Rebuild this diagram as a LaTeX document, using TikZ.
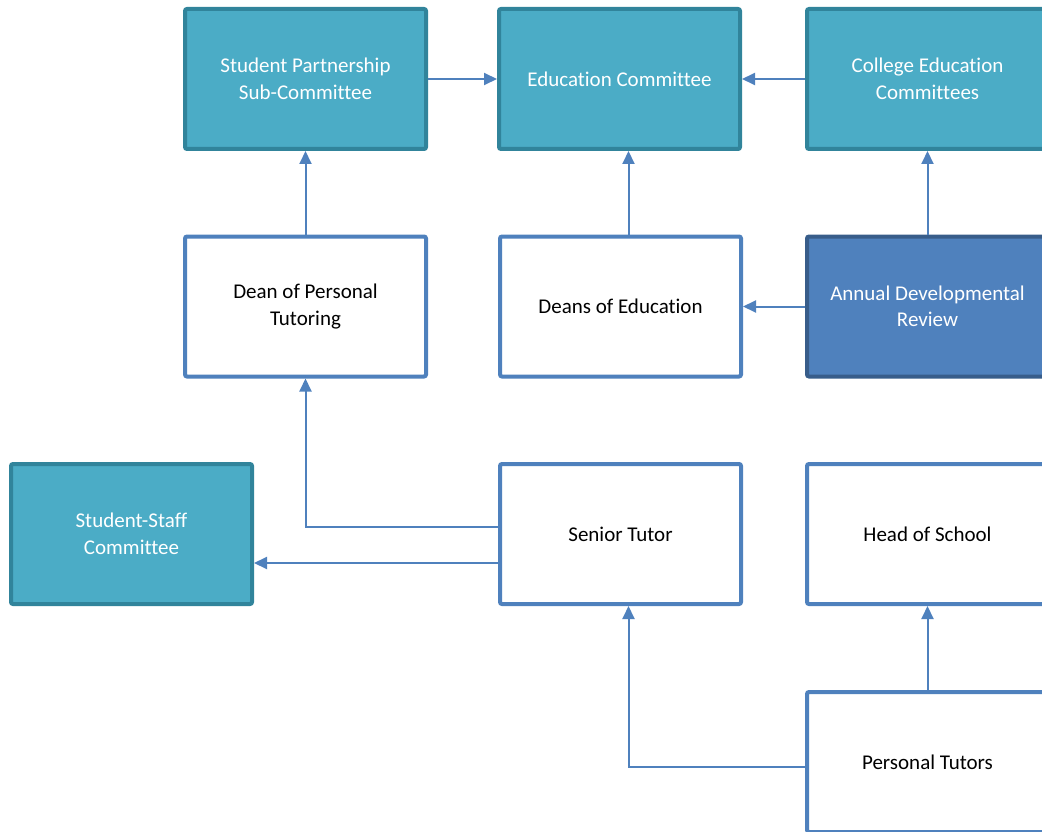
\documentclass[tikz,border=0pt]{standalone}
\usepackage{fontspec}
\setmainfont{Carlito}[Ligatures={NoCommon}]
\usetikzlibrary{arrows.meta}
\definecolor{tealfill}{HTML}{4BACC6}
\definecolor{tealline}{HTML}{31849B}
\definecolor{bluefill}{HTML}{4F81BD}
\definecolor{blueline}{HTML}{385D8A}
\begin{document}
\begin{tikzpicture}[x=1pt,y=-1pt,
  box/.style={rectangle, rounded corners=2pt, line width=4pt, minimum width=241pt, minimum height=140pt,
    align=center, font=\fontsize{21}{26.5}\selectfont, inner sep=0pt},
  tealbox/.style={box, draw=tealline, fill=tealfill, text=white},
  whitebox/.style={box, draw=bluefill, fill=white, text=black},
  adrbox/.style={box, draw=blueline, fill=bluefill, text=white},
  conn/.style={draw=bluefill, line width=2pt, -{Triangle[length=13pt,width=12pt]}},
  thinconn/.style={conn, line width=2pt}
]
\useasboundingbox (0,0) rectangle (1042,832);
\clip (0,0) rectangle (1042,832);
\node[tealbox] (sps) at (305.5,79) {Student Partnership\\Sub-Committee};
\node[tealbox] (ec) at (619.5,79) {Education Committee};
\node[tealbox] (cec) at (927.5,79) {College Education\\Committees};
\node[whitebox] (dpt) at (305.5,306.5) {Dean of Personal\\Tutoring};
\node[whitebox] (doe) at (620.5,306.5) {Deans of Education};
\node[adrbox] (adr) at (927.5,306.5) {Annual Developmental\\Review};
\node[tealbox] (ssc) at (131.5,534) {Student-Staff\\Committee};
\node[whitebox] (st) at (620.5,534) {Senior Tutor};
\node[whitebox] (hos) at (927.5,534) {Head of School};
\node[whitebox] (pt) at (927.5,762) {Personal Tutors};

\draw[conn] (sps.east) -- (ec.west);
\draw[conn] (cec.west) -- (ec.east);
\draw[conn] (dpt.north) -- (sps.south);
\draw[conn] ([xshift=8pt]doe.north) -- ([xshift=8pt]doe.north |- ec.south);
\draw[conn] (adr.north) -- (cec.south);
\draw[conn] (adr.west) -- (doe.east);
\draw[thinconn] ([yshift=7pt]st.west) -| (dpt.south);
\draw[conn] ([yshift=-29pt]st.west) -- ([yshift=-29pt]ssc.east);
\draw[thinconn] ([yshift=-5pt]pt.west) -| ([xshift=8pt]st.south);
\draw[conn] (pt.north) -- (hos.south);
\end{tikzpicture}
\end{document}
